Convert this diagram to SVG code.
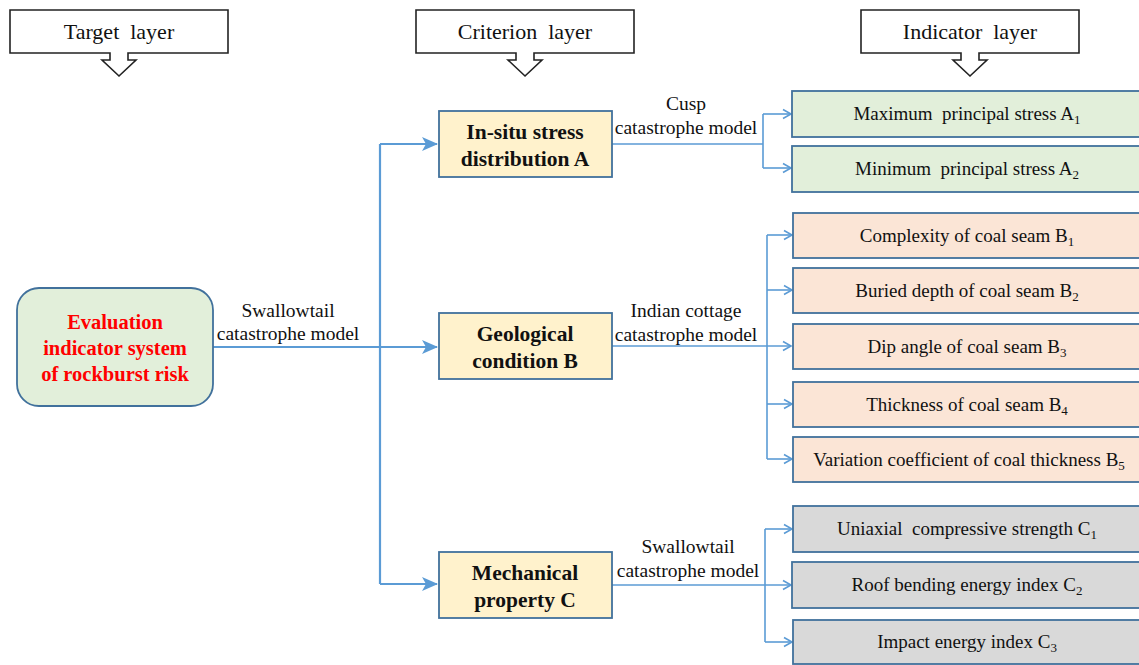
<svg xmlns="http://www.w3.org/2000/svg" width="1139" height="665" viewBox="0 0 1139 665" font-family="'Liberation Serif', 'Times New Roman', Times, 'DejaVu Serif', serif">
<style>
text{font-family:"Liberation Serif","Times New Roman",Times,"DejaVu Serif",serif;fill:#111}
.hdr{font-size:22px}
.hdrbox{fill:#fff;stroke:#222;stroke-width:1.6}
.crit{fill:#fff2cc;stroke:#41719c;stroke-width:1.8}
.crit-t{font-size:21.5px;font-weight:bold;text-anchor:middle}
.ind{stroke:#41719c;stroke-width:1.8}
.ga{fill:#e2efda}.gb{fill:#fbe5d6}.gc{fill:#d9d9d9}
.ind-t{font-size:19px;text-anchor:middle}
.sub{font-size:13px}
.lbl{font-size:19.5px;text-anchor:middle}
.main{fill:none;stroke:#5b9bd5;stroke-width:2.2}
.br{fill:none;stroke:#5b9bd5;stroke-width:1.6}
</style>
<defs>
<marker id="big" markerUnits="userSpaceOnUse" markerWidth="18" markerHeight="16" refX="15" refY="8" orient="auto">
<path d="M0,1 L16,8 L0,15 L4,8 Z" fill="#5b9bd5"/>
</marker>
<marker id="small" markerUnits="userSpaceOnUse" markerWidth="12" markerHeight="12" refX="10" refY="6" orient="auto">
<path d="M2,1.5 L10,6 L2,10.5" fill="none" stroke="#5b9bd5" stroke-width="1.6"/>
</marker>
</defs>

<g id="header-target">
<path class="hdrbox" d="M10,10 H228 V53 H128 V60 H136 L119,76 L102,60 H110 V53 H10 Z"/>
<text class="hdr" x="119" y="39" text-anchor="middle" xml:space="preserve">Target  layer</text>
</g>
<g id="header-criterion">
<path class="hdrbox" d="M416,10 H634 V53 H534 V60 H542 L525,76 L508,60 H516 V53 H416 Z"/>
<text class="hdr" x="525" y="39" text-anchor="middle" xml:space="preserve">Criterion  layer</text>
</g>
<g id="header-indicator">
<path class="hdrbox" d="M861,10 H1079 V53 H979 V60 H987 L970,76 L953,60 H961 V53 H861 Z"/>
<text class="hdr" x="970" y="39" text-anchor="middle" xml:space="preserve">Indicator  layer</text>
</g>

<g id="connectors">
<path class="main" d="M213,347 H437" marker-end="url(#big)"/>
<path class="main" d="M380,144 V584"/>
<path class="main" d="M380,144 H437" marker-end="url(#big)"/>
<path class="main" d="M380,584 H437" marker-end="url(#big)"/>
<path class="br" d="M612,144 H763 M763,114 V168"/>
<path class="br" d="M763,114 H791" marker-end="url(#small)"/>
<path class="br" d="M763,168 H791" marker-end="url(#small)"/>
<path class="br" d="M612,346 H791" marker-end="url(#small)"/>
<path class="br" d="M767,235 V459"/>
<path class="br" d="M767,235 H792" marker-end="url(#small)"/>
<path class="br" d="M767,290 H792" marker-end="url(#small)"/>
<path class="br" d="M767,404 H792" marker-end="url(#small)"/>
<path class="br" d="M767,459 H792" marker-end="url(#small)"/>
<path class="br" d="M612,585 H791" marker-end="url(#small)"/>
<path class="br" d="M765,529 V642"/>
<path class="br" d="M765,529 H792" marker-end="url(#small)"/>
<path class="br" d="M765,642 H792" marker-end="url(#small)"/>
<text class="lbl" x="288" y="317">Swallowtail</text>
<text class="lbl" x="288" y="340">catastrophe model</text>
<text class="lbl" x="686" y="110">Cusp</text>
<text class="lbl" x="686" y="134">catastrophe model</text>
<text class="lbl" x="686" y="317">Indian cottage</text>
<text class="lbl" x="686" y="341">catastrophe model</text>
<text class="lbl" x="688" y="553">Swallowtail</text>
<text class="lbl" x="688" y="577">catastrophe model</text>
</g>

<g id="target">
<rect x="17" y="288" width="196" height="118" rx="22" fill="#e2efda" stroke="#41719c" stroke-width="1.8"/>
<text x="115" y="329" text-anchor="middle" font-size="20.5" font-weight="bold" style="fill:#ff0000">Evaluation</text>
<text x="115" y="355" text-anchor="middle" font-size="20.5" font-weight="bold" style="fill:#ff0000">indicator system</text>
<text x="115" y="381" text-anchor="middle" font-size="20.5" font-weight="bold" style="fill:#ff0000">of rockburst risk</text>
</g>

<g id="crit-a">
<rect class="crit" x="439" y="111" width="173" height="66"/>
<text class="crit-t" x="525" y="139">In-situ stress</text>
<text class="crit-t" x="525" y="166">distribution A</text>
</g>
<g id="crit-b">
<rect class="crit" x="439" y="313" width="173" height="66"/>
<text class="crit-t" x="525" y="341">Geological</text>
<text class="crit-t" x="525" y="368">condition B</text>
</g>
<g id="crit-c">
<rect class="crit" x="439" y="552" width="173" height="66"/>
<text class="crit-t" x="525" y="580">Mechanical</text>
<text class="crit-t" x="525" y="607">property C</text>
</g>

<g id="ind-a1">
<rect class="ind ga" x="792" y="91" width="360" height="46"/>
<text class="ind-t" x="967" y="120" xml:space="preserve">Maximum  principal stress A<tspan class="sub" dy="4">1</tspan></text>
</g>
<g id="ind-a2">
<rect class="ind ga" x="792" y="146" width="360" height="46"/>
<text class="ind-t" x="967" y="175" xml:space="preserve">Minimum  principal stress A<tspan class="sub" dy="4">2</tspan></text>
</g>
<g id="ind-b1">
<rect class="ind gb" x="793" y="213" width="360" height="45"/>
<text class="ind-t" x="967" y="242">Complexity of coal seam B<tspan class="sub" dy="4">1</tspan></text>
</g>
<g id="ind-b2">
<rect class="ind gb" x="793" y="268" width="360" height="45"/>
<text class="ind-t" x="967" y="297">Buried depth of coal seam B<tspan class="sub" dy="4">2</tspan></text>
</g>
<g id="ind-b3">
<rect class="ind gb" x="793" y="324" width="360" height="45"/>
<text class="ind-t" x="967" y="353">Dip angle of coal seam B<tspan class="sub" dy="4">3</tspan></text>
</g>
<g id="ind-b4">
<rect class="ind gb" x="793" y="382" width="360" height="45"/>
<text class="ind-t" x="967" y="411">Thickness of coal seam B<tspan class="sub" dy="4">4</tspan></text>
</g>
<g id="ind-b5">
<rect class="ind gb" x="793" y="437" width="360" height="45"/>
<text class="ind-t" x="969" y="466">Variation coefficient of coal thickness B<tspan class="sub" dy="4">5</tspan></text>
</g>
<g id="ind-c1">
<rect class="ind gc" x="793" y="506" width="360" height="46"/>
<text class="ind-t" x="967" y="535" xml:space="preserve">Uniaxial  compressive strength C<tspan class="sub" dy="4">1</tspan></text>
</g>
<g id="ind-c2">
<rect class="ind gc" x="792" y="562" width="360" height="46"/>
<text class="ind-t" x="967" y="591">Roof bending energy index C<tspan class="sub" dy="4">2</tspan></text>
</g>
<g id="ind-c3">
<rect class="ind gc" x="793" y="620" width="360" height="44"/>
<text class="ind-t" x="967" y="648">Impact energy index C<tspan class="sub" dy="4">3</tspan></text>
</g>
</svg>
